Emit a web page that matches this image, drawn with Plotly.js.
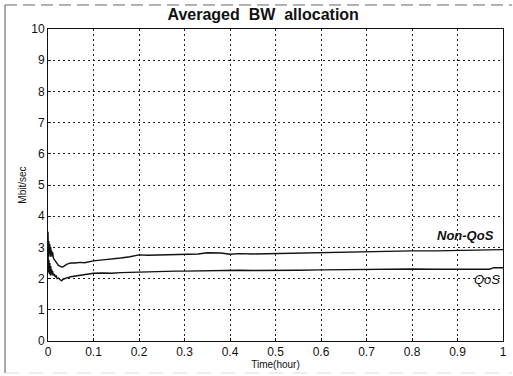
<!DOCTYPE html>
<html>
<head>
<meta charset="utf-8">
<script src="https://cdn.plot.ly/plotly-3.0.1.min.js"></script>
<style>html,body{margin:0;padding:0;background:#fff;}#chart{width:513px;height:376px;}</style>
</head>
<body>
<div id="chart"></div>
<script>
const timeHours = [0,0.001,0.002,0.003,0.004,0.005,0.006,0.007,0.008,0.009,0.01,
  0.012,0.014,0.016,0.018,0.02,
  0.023,0.026,0.03,0.033,0.036,0.04,0.045,0.05,
  0.06,0.07,0.08,0.09,0.1,
  0.12,0.14,0.16,0.18,0.2,
  0.22,0.25,0.28,0.3,0.33,0.35,0.38,0.4,0.42,0.45,0.48,0.5,
  0.55,0.6,0.65,0.7,0.75,0.8,0.85,0.9,0.95,0.97,0.98,1.0];
const nonQoS = [3.5,2.7,3.2,2.8,3.1,2.7,3.0,2.75,2.9,2.7,2.85,
  2.65,2.6,2.55,2.5,2.48,
  2.42,2.4,2.37,2.38,2.42,2.45,2.48,2.5,
  2.5,2.52,2.51,2.55,2.57,
  2.6,2.62,2.66,2.7,2.76,
  2.75,2.76,2.77,2.76,2.79,2.83,2.82,2.78,2.8,2.79,2.8,2.81,
  2.82,2.84,2.85,2.86,2.87,2.89,2.89,2.9,2.91,2.92,2.93,2.93];
const qoS = [2.9,2.2,2.6,2.15,2.5,2.1,2.4,2.15,2.3,2.1,2.25,
  2.1,2.15,2.05,2.1,2.0,
  2.02,1.97,1.93,1.98,2.0,2.02,2.04,2.06,
  2.08,2.1,2.14,2.15,2.17,
  2.18,2.17,2.19,2.2,2.22,
  2.22,2.23,2.24,2.24,2.25,2.26,2.27,2.28,2.27,2.26,2.26,2.25,
  2.27,2.28,2.29,2.30,2.31,2.31,2.30,2.30,2.30,2.30,2.35,2.35];
const xTicks = [0,0.1,0.2,0.3,0.4,0.5,0.6,0.7,0.8,0.9,1];
const xTickText = ['0','0.1','0.2','0.3','0.4','0.5','0.6','0.7','0.8','0.9','1'];
const yTicks = [0,1,2,3,4,5,6,7,8,9,10];
const seriesNames = ['Non-QoS','QoS'];
const labelPos = {nonX:0.985, nonY:3.37, qosX:0.998, qosY:1.96};

const fnt = 'Liberation Sans, Arial, Helvetica, sans-serif';
const traces = [
  {x: timeHours, y: nonQoS, name: seriesNames[0], mode:'lines', line:{color:'#111', width:1.4}},
  {x: timeHours, y: qoS, name: seriesNames[1], mode:'lines', line:{color:'#111', width:1.4}}
];
const axisCommon = {
  showline:true, mirror:true, linecolor:'#111', linewidth:1,
  showgrid:true, gridcolor:'#222', gridwidth:1, griddash:'2px,3px',
  zeroline:false, ticks:'inside', ticklen:3, tickcolor:'#111',
  tickfont:{family:fnt, size:12, color:'#111'}
};
const layout = {
  width:513, height:376,
  margin:{l:48, r:10, t:29, b:35},
  paper_bgcolor:'#fff', plot_bgcolor:'#fff',
  showlegend:false,
  title:{text:'<b>Averaged  BW  allocation</b>', font:{family:fnt, size:16, color:'#111'},
    xref:'container', x:0.513, xanchor:'center', yref:'container', y:0.962, yanchor:'middle'},
  xaxis: Object.assign({}, axisCommon, {range:[0,1], tickvals:xTicks, ticktext:xTickText,
    title:{text:'Time(hour)', font:{family:fnt, size:10, color:'#111'}, standoff:1}}),
  yaxis: Object.assign({}, axisCommon, {range:[0,10], tickvals:yTicks,
    title:{text:'Mbit/sec', font:{family:fnt, size:10, color:'#111'}, standoff:2}}),
  annotations:[
    {x:labelPos.nonX, y:labelPos.nonY, xref:'x', yref:'y', text:'<b><i>Non-QoS</i></b>', showarrow:false,
      xanchor:'right', yanchor:'middle', font:{family:fnt, size:13, color:'#111'}},
    {x:labelPos.qosX, y:labelPos.qosY, xref:'x', yref:'y', text:'<i>QoS</i>', showarrow:false,
      xanchor:'right', yanchor:'middle', font:{family:fnt, size:13, color:'#111'}}
  ],
  shapes:[
    {type:'line', xref:'paper', yref:'paper', x0:-0.0945, x1:-0.0945, y0:-0.1026, y1:1.077, line:{color:'#555', width:1}},
    {type:'line', xref:'paper', yref:'paper', x0:-0.0945, x1:1.02, y0:1.077, y1:1.077, line:{color:'#666', width:1, dash:'12px,6px'}},
    {type:'line', xref:'paper', yref:'paper', x0:-0.0945, x1:1.02, y0:-0.1026, y1:-0.1026, line:{color:'#ddd', width:1, dash:'14px,10px'}}
  ]
};
Plotly.newPlot('chart', traces, layout, {displayModeBar:false, staticPlot:true});
</script>
</body>
</html>
